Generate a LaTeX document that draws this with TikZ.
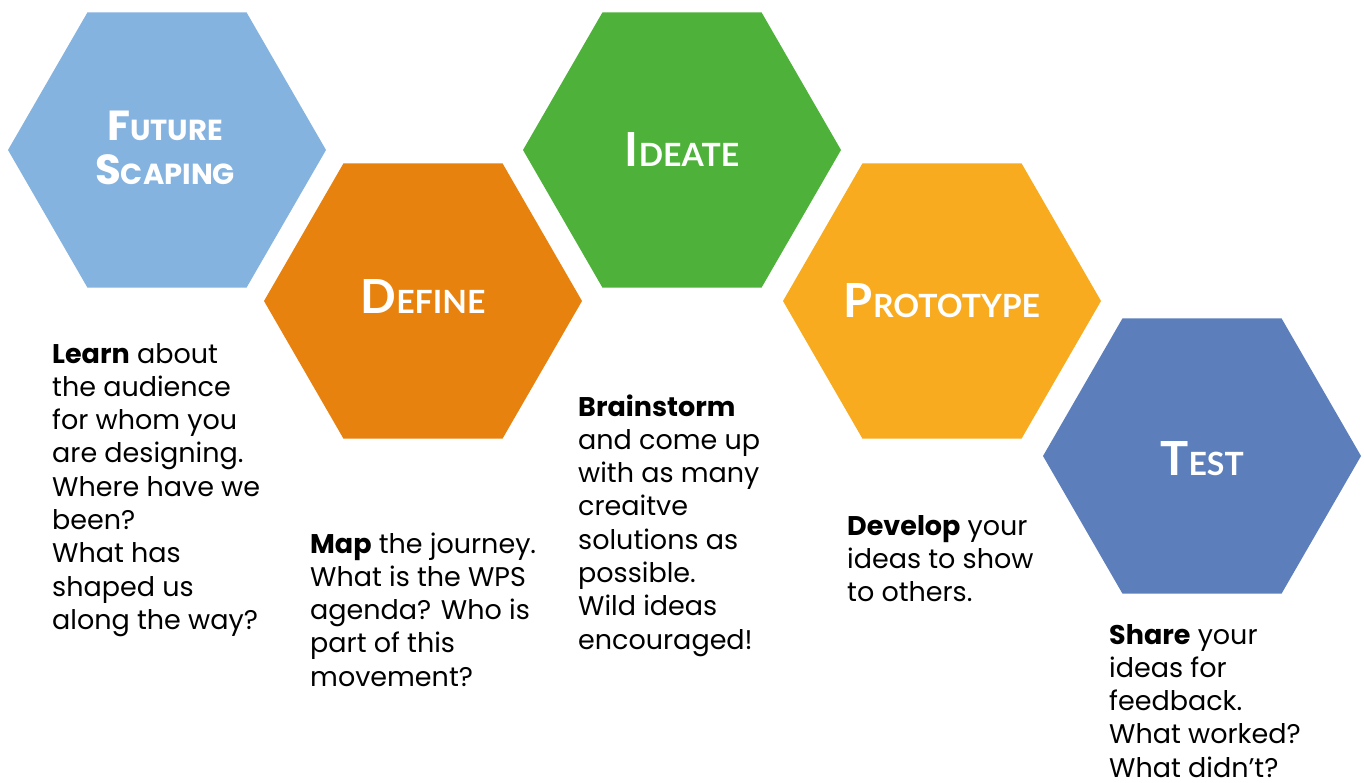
\documentclass[tikz,border=0pt]{standalone}
\usepackage{fontspec}
\setmainfont{Poppins}
\newfontfamily\titlefont{Lato}
\newfontfamily\popfont{Poppins}
\usetikzlibrary{shapes.geometric}
\definecolor{cFuture}{HTML}{85B3DF}
\definecolor{cDefine}{HTML}{E8820F}
\definecolor{cIdeate}{HTML}{4EB23A}
\definecolor{cProto}{HTML}{F8AB1E}
\definecolor{cTest}{HTML}{5C7FBC}
\newcommand\sctitle[2]{{\fontsize{47}{47}\selectfont #1}{\fontsize{32}{32}\selectfont #2}}
\newcommand\scpop[2]{{\fontsize{42}{42}\selectfont #1}{\fontsize{29}{29}\selectfont #2}}
\newcommand\bodylines[1]{\begin{tabular}[t]{@{}l@{}}#1\end{tabular}}
\begin{document}
\begin{tikzpicture}[x=1pt,y=-1pt,
  hex/.style={regular polygon, regular polygon sides=6, minimum size=318pt, inner sep=0pt, outer sep=0pt, draw=none},
  title/.style={text=white, anchor=base, inner sep=0pt, font=\titlefont\bfseries},
  poptitle/.style={text=white, anchor=base, inner sep=0pt, font=\popfont\bfseries},
  body/.style={anchor=base west, inner sep=0pt, font=\fontsize{27}{33.3}\selectfont}]
\useasboundingbox[fill=white] (0,0) rectangle (1364,782);
\node[hex, fill=cFuture] (h1) at (167,150) {};
\node[hex, fill=cDefine] (h2) at (423,301) {};
\node[hex, fill=cIdeate] (h3) at (682,150) {};
\node[hex, fill=cProto] (h4) at (942,301) {};
\node[hex, fill=cTest] (h5) at (1202,456) {};
\node[poptitle] (t1a) at (165,140) {\scpop{F}{UTURE}};
\node[poptitle] (t1b) at (165,184) {\scpop{S}{CAPING}};
\node[title] (t2) at (423,313) {\sctitle{D}{EFINE}};
\node[title] (t3) at (682,166) {\sctitle{I}{DEATE}};
\node[title] (t4) at (942,317) {\sctitle{P}{ROTOTYPE}};
\node[title] (t5) at (1202,475) {\sctitle{T}{EST}};
\node[body] (b1) at (52,363) {\bodylines{\textbf{Learn} about\\the audience\\for whom you\\are designing.\\Where have we\\been?\\What has\\shaped us\\along the way?}};
\node[body] (b2) at (310,553) {\bodylines{\textbf{Map} the journey.\\What is the WPS\\agenda? Who is\\part of this\\movement?}};
\node[body] (b3) at (578,416) {\bodylines{\textbf{Brainstorm}\\and come up\\with as many\\creaitve\\solutions as\\possible.\\Wild ideas\\encouraged!}};
\node[body] (b4) at (847,535) {\bodylines{\textbf{Develop} your\\ideas to show\\to others.}};
\node[body] (b5) at (1109,644) {\bodylines{\textbf{Share} your\\ideas for\\feedback.\\What worked?\\What didn’t?}};
\end{tikzpicture}
\end{document}
